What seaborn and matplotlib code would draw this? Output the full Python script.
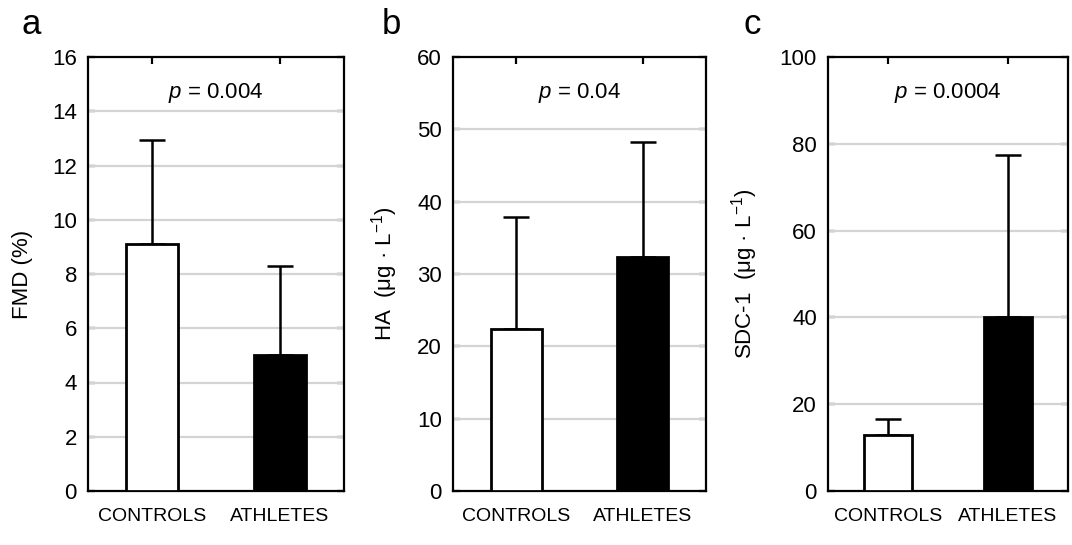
import matplotlib
matplotlib.use("Agg")
import matplotlib.pyplot as plt
import seaborn as sns
import pandas as pd
import numpy as np

sns.set_theme(style="white")
plt.rcParams['font.family'] = ['Liberation Sans', 'DejaVu Sans']
plt.rcParams['mathtext.fontset'] = 'custom'
plt.rcParams['mathtext.rm'] = 'Liberation Sans'
plt.rcParams['mathtext.it'] = 'Liberation Sans:italic'
plt.rcParams['text.color'] = 'black'
plt.rcParams['axes.labelcolor'] = 'black'
plt.rcParams['xtick.color'] = 'black'
plt.rcParams['ytick.color'] = 'black'

groups = ["CONTROLS", "ATHLETES"]
fmd_mean = [9.1, 5.0]
fmd_sd = [3.85, 3.3]
ha_mean = [22.4, 32.4]
ha_sd = [15.5, 15.9]
sdc_mean = [13.0, 40.0]
sdc_sd = [3.7, 37.4]

panel_letters = ["a", "b", "c"]
ylabels = ["FMD (%)", "HA  (μg · L$^{-1}$)", "SDC-1  (μg · L$^{-1}$)"]
pvalues = ["$\\mathit{p}$ = 0.004", "$\\mathit{p}$ = 0.04", "$\\mathit{p}$ = 0.0004"]
ylims = [16, 60, 100]
ysteps = [2, 10, 20]

means = [fmd_mean, ha_mean, sdc_mean]
sds = [fmd_sd, ha_sd, sdc_sd]

fig = plt.figure(figsize=(10.72, 5.45), dpi=100)
W, H = 1072, 545
axes_px = [(88, 256), (453, 253), (828, 240)]
label_x = [-0.215, -0.209, -0.283]
letter_x = [31, 391, 752]
bottom_px, top_px = 491, 57

for i in range(3):
    left, width = axes_px[i]
    ax = fig.add_axes([left / W, 1 - bottom_px / H, width / W, (bottom_px - top_px) / H])
    df = pd.DataFrame({"group": groups, "value": means[i]})
    sns.barplot(data=df, x="group", y="value", hue="group", palette=["white", "black"],
                order=groups, edgecolor="black", linewidth=2, width=0.4, legend=False,
                errorbar=None, ax=ax, zorder=3)
    pos = np.arange(len(groups))
    ax.errorbar(pos, means[i], yerr=[np.zeros(len(groups)), sds[i]], fmt="none",
                ecolor="black", elinewidth=1.8, capsize=9.4, capthick=1.8, zorder=2)
    ax.set_xlim(-0.5, 1.5)
    ax.set_ylim(0, ylims[i])
    ticks = np.arange(0, ylims[i] + 0.001, ysteps[i])
    ax.set_yticks(ticks)
    ax.set_yticklabels([f"{int(t)}" for t in ticks])
    for t in ticks[1:-1]:
        ax.axhline(t, color="#d4d4d4", lw=1.6, zorder=1)
    ax.set_xlabel("")
    ax.set_ylabel(ylabels[i], fontsize=16)
    ax.yaxis.set_label_coords(label_x[i], 0.5)
    for s in ax.spines.values():
        s.set_visible(True)
        s.set_color("black")
        s.set_linewidth(1.6)
    ax.tick_params(axis="y", which="both", direction="in", left=True, right=True,
                   length=5, width=1.6, labelsize=16, pad=8, colors="black")
    ax.tick_params(axis="x", which="both", direction="in", top=True, bottom=True,
                   length=5, width=1.6, labelsize=14, pad=12, colors="black")
    ax.text(0.5, 0.917, pvalues[i], transform=ax.transAxes, ha="center", va="center",
            fontsize=16)
    fig.text(letter_x[i] / W, 1 - 25 / H, panel_letters[i], fontsize=25,
             ha="center", va="center")

fig.savefig("out.png", dpi=100)
